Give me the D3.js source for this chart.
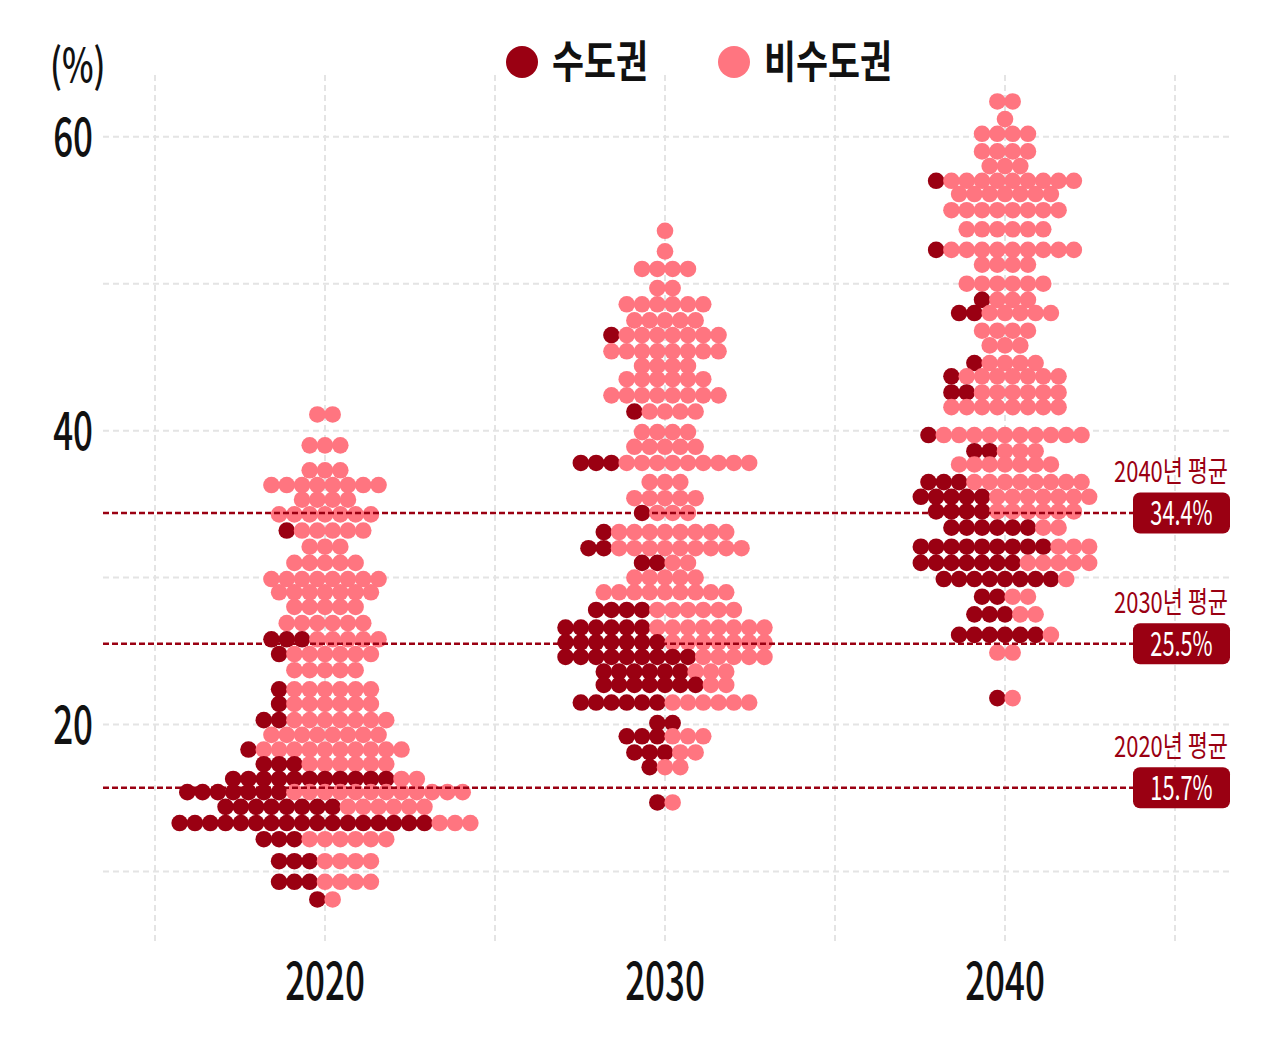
<!DOCTYPE html>
<html>
<head>
<meta charset="utf-8">
<script src="https://cdn.jsdelivr.net/npm/d3@7"></script>
<style>
  body { margin: 0; background: #fff; }
  text { font-family: "Noto Sans CJK KR", "Noto Sans", sans-serif; }
</style>
</head>
<body>
<div id="chart"></div>
<script>
// categories and series
const years = ["2020", "2030", "2040"];
const groups = ["수도권", "비수도권"];
const means = [15.7, 25.5, 34.4];
const yTicks = [20, 40, 60];

// each row: [share (%), 수도권 dots, 비수도권 dots]
const rows2020 = [
  [41.1,0,2],[39.0,0,3],[37.3,0,3],[36.3,0,8],[35.3,0,4],[34.3,0,7],[33.2,1,5],
  [32.1,0,3],[31.0,0,5],[29.9,0,8],[29.0,0,7],[28.0,0,5],[26.9,0,6],[25.8,3,5],
  [24.8,1,6],[23.7,0,5],[22.4,1,6],[21.4,1,6],[20.3,2,7],[19.3,0,8],[18.3,1,10],
  [17.3,3,6],[16.3,11,2],[15.4,7,12],[14.4,8,6],[13.3,17,3],[12.2,3,6],[10.7,3,4],
  [9.3,3,4],[8.1,1,1]
];
const rows2030 = [
  [53.6,0,1],[52.2,0,1],[51.0,0,4],[49.7,0,2],[48.6,0,6],[47.5,0,5],[46.5,1,7],
  [45.4,0,8],[44.4,0,4],[43.5,0,6],[42.4,0,8],[41.3,1,4],[39.9,0,4],[38.9,0,5],
  [37.8,3,9],[36.5,0,3],[35.4,0,5],[34.4,1,3],[33.1,1,8],[32.0,2,9],[31.0,2,2],
  [30.0,0,5],[29.0,0,9],[27.8,4,6],[26.6,6,8],[25.6,7,7],[24.6,9,5],[23.6,6,3],
  [22.7,7,2],[21.5,6,6],[20.1,2,0],[19.2,3,3],[18.1,3,2],[17.1,1,2],[14.7,1,1]
];
const rows2040 = [
  [62.4,0,2],[61.2,0,1],[60.2,0,4],[59.0,0,4],[58.0,0,3],[57.0,1,9],[56.1,0,7],
  [55.0,0,8],[53.7,0,6],[52.3,1,9],[51.3,0,4],[50.0,0,6],[48.9,1,3],[48.0,2,5],
  [46.8,0,4],[45.8,0,3],[44.6,1,4],[43.7,1,7],[42.6,2,6],[41.6,0,8],[39.7,1,10],
  [38.6,2,3],[37.7,0,7],[36.5,3,8],[35.5,5,7],[34.5,4,6],[33.4,6,2],[32.1,9,3],
  [31.0,7,5],[29.9,8,1],[28.7,2,2],[27.5,3,2],[26.1,6,1],[24.9,0,2],[21.8,1,1]
];
const rowsByYear = [rows2020, rows2030, rows2040];

const colors = ["#9a0012", "#ff7580"];
const red = "#9a0012";
const gridColor = "#e4e4e4";

const svgWidth = 1279, svgHeight = 1049;
const plotLeft = 103, plotRight = 1230, plotTop = 75, plotBottom = 945;
const dotStep = 15.3, dotR = 8.3;

const svg = d3.select("#chart").append("svg")
  .attr("width", svgWidth)
  .attr("height", svgHeight);

const x = d3.scaleBand().domain(years).range([155, 1175]);
const y = d3.scaleLinear().domain([5, 64.2]).range([plotBottom, plotTop]);
const color = d3.scaleOrdinal().domain(groups).range(colors);

// grid
const grid = svg.append("g");
grid.selectAll(".hg")
  .data(d3.range(10, 61, 10))
  .enter().append("line")
  .attr("x1", plotLeft).attr("x2", plotRight)
  .attr("y1", d => y(d)).attr("y2", d => y(d))
  .attr("stroke", gridColor).attr("stroke-width", 2).attr("stroke-dasharray", "6,4");

let vx = [];
years.forEach(d => { vx.push(x(d)); vx.push(x(d) + x.bandwidth() / 2); });
vx.push(x.range()[1]);
grid.selectAll(".vg")
  .data(vx)
  .enter().append("line")
  .attr("x1", d => d).attr("x2", d => d)
  .attr("y1", plotTop).attr("y2", plotBottom)
  .attr("stroke", gridColor).attr("stroke-width", 2).attr("stroke-dasharray", "6,4");

// dots
let dots = [];
rowsByYear.forEach((rows, yi) => {
  rows.forEach(r => {
    let n = r[1] + r[2];
    for (let i = 0; i < n; i++) {
      dots.push({
        year: years[yi],
        value: r[0],
        group: i < r[1] ? groups[0] : groups[1],
        off: (i - (n - 1) / 2) * dotStep
      });
    }
  });
});

svg.append("g").selectAll("circle")
  .data(dots)
  .enter().append("circle")
  .attr("cx", d => x(d.year) + x.bandwidth() / 2 + d.off)
  .attr("cy", d => y(d.value))
  .attr("r", dotR)
  .attr("fill", d => color(d.group));

// axes
const tickScale = 0.66;
const yAxis = svg.append("g")
  .attr("transform", `translate(${plotLeft},0)`)
  .call(d3.axisLeft(y).tickValues(yTicks).tickSize(0));
yAxis.select(".domain").remove();
yAxis.selectAll("text")
  .attr("font-family", null)
  .attr("font-size", 53)
  .attr("font-weight", 500)
  .attr("fill", "#111")
  .attr("x", -10 / tickScale)
  .attr("dy", "0.36em")
  .attr("transform", `scale(${tickScale},1)`);

const xAxis = svg.append("g")
  .attr("transform", `translate(0,${plotBottom})`)
  .call(d3.axisBottom(x).tickSize(0));
xAxis.select(".domain").remove();
xAxis.selectAll("text")
  .attr("font-family", null)
  .attr("font-size", 53)
  .attr("font-weight", 500)
  .attr("fill", "#111")
  .attr("y", 55)
  .attr("dy", 0)
  .attr("transform", `scale(${tickScale},1)`);

function label(g, px, py, s, size, sx, anchor, fill, weight) {
  return g.append("text")
    .attr("transform", `translate(${px},${py}) scale(${sx},1)`)
    .attr("text-anchor", anchor)
    .attr("font-size", size)
    .attr("font-weight", weight || "normal")
    .attr("fill", fill)
    .text(s);
}

label(svg, 50, 82, "(%)", 46, 0.73, "start", "#111", 500);

// mean lines
const meanG = svg.append("g");
means.forEach((m, i) => {
  let my = y(m);
  meanG.append("line")
    .attr("x1", plotLeft).attr("x2", 1133)
    .attr("y1", my).attr("y2", my)
    .attr("stroke", red).attr("stroke-width", 2.5).attr("stroke-dasharray", "6,3");
  meanG.append("rect")
    .attr("x", 1133).attr("y", my - 20.5)
    .attr("width", 97).attr("height", 41)
    .attr("rx", 7)
    .attr("fill", red);
  label(meanG, 1181.5, my + 12, m.toFixed(1) + "%", 34, 0.64, "middle", "#fff");
  label(meanG, 1228, my - 31, years[i] + "년 평균", 29, 0.755, "end", red);
});

// legend
const legend = svg.append("g");
const legendX = [522, 734];
groups.forEach((gname, i) => {
  legend.append("circle")
    .attr("cx", legendX[i]).attr("cy", 62).attr("r", 16)
    .attr("fill", color(gname));
  label(legend, legendX[i] + 30, 78, gname, 44, 0.79, "start", "#111", "bold");
});
</script>
</body>
</html>
